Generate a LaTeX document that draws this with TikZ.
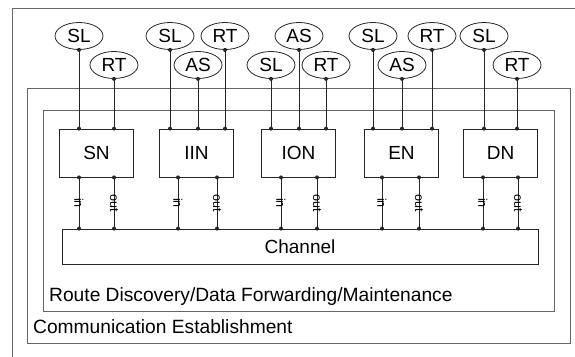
\documentclass[tikz,border=0pt]{standalone}
\usepackage{fontspec}
\setmainfont{Liberation Sans}
\usetikzlibrary{shapes.geometric}
\begin{document}
\begin{tikzpicture}[x=1pt,y=-1pt,
  frame/.style={draw=black!60, line width=0.9pt},
  nodebox/.style={draw=black!85, line width=0.8pt, minimum width=74pt, minimum height=48pt, inner sep=0pt, font=\fontsize{19}{21}\selectfont},
  tag/.style={ellipse, draw=black!85, line width=0.8pt, minimum width=48pt, minimum height=27pt, inner sep=0pt, font=\fontsize{19}{21}\selectfont},
  conn/.style={draw=black!85, line width=0.8pt},
  dotc/.style={fill=black!85},
  portlbl/.style={rotate=-90, font=\fontsize{12.5}{13}\selectfont, inner sep=0pt},
  bigtext/.style={font=\fontsize{19.2}{21}\selectfont, inner sep=0pt, anchor=base west}]
\useasboundingbox (0,0) rectangle (575,356);
% frames
\draw[frame] (12,358) -- (12,8) -- (577,8);
\draw[frame] (27,88) rectangle (570,343);
\draw[frame] (43,110) rectangle (554,311);
\node[bigtext] (rd) at (49,301) {Route Discovery/Data Forwarding/Maintenance};
\node[bigtext] (ce) at (33,333) {Communication Establishment};
% node boxes
\node[nodebox] (SN)  at (96.5,153) {SN};
\node[nodebox] (IIN) at (196.5,153) {IIN};
\node[nodebox] (ION) at (298.5,153) {ION};
\node[nodebox] (EN)  at (401.5,153) {EN};
\node[nodebox] (DN)  at (500.5,153) {DN};
\node[draw=black!85, line width=0.8pt, minimum width=476pt, minimum height=35pt, inner sep=0pt, font=\fontsize{19}{21}\selectfont] (CH) at (300,246.5) {Channel};
% tags
\foreach \n/\t/\x/\y/\b in {s1/SL/79/36/SN, s2/RT/114/65/SN,
  i1/SL/170/36/IIN, i2/AS/198/65/IIN, i3/RT/225/36/IIN,
  o1/SL/271/65/ION, o2/AS/299/36/ION, o3/RT/326/65/ION,
  e1/SL/373/36/EN, e2/AS/402/65/EN, e3/RT/432/36/EN,
  d1/SL/484/36/DN, d2/RT/517/65/DN}{
  \node[tag] (\n) at (\x,\y) {\t};
  \draw[conn] (\n.south) -- (\n.south |- \b.north);
  \fill[dotc] (\n.south) circle (2pt);
  \fill[dotc] (\n.south |- \b.north) circle (2pt);
}
% ports to channel
\foreach \b/\xi/\xo in {SN/79/114, IIN/178/217, ION/281/317, EN/382/419, DN/483/518}{
  \coordinate (\b in) at (\xi,0);
  \coordinate (\b out) at (\xo,0);
  \draw[conn] (\b.south -| \b in) -- node[portlbl]{in} (CH.north -| \b in);
  \draw[conn] (\b.south -| \b out) -- node[portlbl]{out} (CH.north -| \b out);
  \foreach \c in {\b in, \b out}{
    \fill[dotc] (\b.south -| \c) circle (2pt);
    \fill[dotc] (CH.north -| \c) circle (2pt);
  }
}
\end{tikzpicture}
\end{document}
